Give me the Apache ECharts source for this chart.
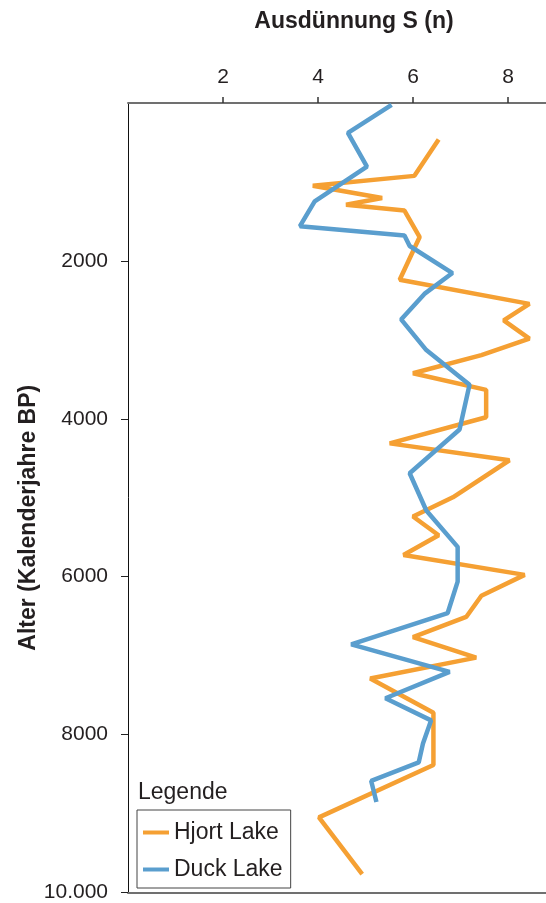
<!DOCTYPE html>
<html>
<head>
<meta charset="utf-8">
<script src="https://cdn.jsdelivr.net/npm/echarts@6/dist/echarts.min.js"></script>
<style>html,body{margin:0;padding:0;background:#fff}#c{width:546px;height:903px}</style>
</head>
<body>
<div id="c"></div>
<script>
// Hjort Lake: age (years BP) and thinning S (n)
const hjortAge = [463, 923, 1049, 1204, 1288, 1363, 1698, 2238, 2544, 2754, 2984, 3193, 3423, 3633, 3980, 4311, 4525, 4994, 5237, 5475, 5726, 5977, 6241, 6510, 6765, 7025, 7289, 7724, 8386, 9048, 9768];
const hjortS   = [6.54, 6.03, 3.89, 5.35, 4.59, 5.82, 6.14, 5.72, 8.45, 7.91, 8.45, 7.44, 6.0, 7.54, 7.54, 5.51, 8.03, 6.84, 6.0, 6.54, 5.80, 8.35, 7.44, 7.12, 6.0, 7.33, 5.10, 6.43, 6.43, 4.02, 4.93];
// Duck Lake
const duckAge = [25, 379, 806, 1246, 1560, 1677, 1811, 2154, 2418, 2741, 3130, 3570, 4136, 4690, 5161, 5622, 6062, 6460, 6857, 7205, 7540, 7820, 8113, 8352, 8587, 8854];
const duckS   = [5.55, 4.63, 5.03, 3.93, 3.62, 5.82, 5.93, 6.83, 6.24, 5.75, 6.28, 7.19, 6.98, 5.93, 6.28, 6.94, 6.94, 6.73, 4.70, 6.77, 5.42, 6.38, 6.21, 6.12, 5.12, 5.23];
const xTicks = [2, 4, 6, 8];
const yTicks = [2000, 4000, 6000, 8000, 10000];
const yTickLabels = ['2000', '4000', '6000', '8000', '10.000'];

const txt = '#231f20';
const font = 'Liberation Sans, Arial, Helvetica, sans-serif';
const chart = echarts.init(document.getElementById('c'));
chart.setOption({
  animation: false,
  textStyle: {fontFamily: font, color: txt},
  title: {text: 'Legende', left: 133, top: 776, textStyle: {fontFamily: font, fontSize: 23, fontWeight: 'normal', color: txt}},
  legend: {
    orient: 'vertical', left: 137, top: 810,
    padding: [11, 8, 7, 6], itemGap: 14, itemWidth: 26, itemHeight: 4,
    borderColor: '#444', borderWidth: 1,
    textStyle: {fontFamily: font, fontSize: 23, color: txt, padding: [0, 0, 0, 0]},
    data: [{name: 'Hjort Lake', icon: 'rect'}, {name: 'Duck Lake', icon: 'rect'}]
  },
  grid: {left: 128, top: 103, right: 0, bottom: 5, containLabel: false},
  xAxis: [{
    type: 'value', position: 'top', min: 0, max: 8.8, interval: 2,
    name: 'Ausdünnung S (n)', nameLocation: 'middle', nameGap: 70, nameMoveOverlap: false,
    nameTextStyle: {fontFamily: font, fontSize: 23, fontWeight: 'bold', color: txt, padding: [0, 0, 0, 34]},
    axisLine: {show: true, lineStyle: {color: '#707070', width: 2}},
    axisTick: {show: true, length: 6, lineStyle: {color: '#333', width: 1.5}, customValues: xTicks},
    axisLabel: {fontFamily: font, fontSize: 21, color: txt, margin: 15, customValues: xTicks},
    splitLine: {show: false}
  }, {
    type: 'value', position: 'bottom', min: 0, max: 8.8,
    axisLine: {show: true, lineStyle: {color: '#707070', width: 2}},
    axisTick: {show: false}, axisLabel: {show: false}, splitLine: {show: false}
  }],
  yAxis: {
    type: 'value', inverse: true, min: 0, max: 10000, interval: 2000,
    name: 'Alter (Kalenderjahre BP)', nameLocation: 'middle', nameGap: 88, nameMoveOverlap: false,
    nameTextStyle: {fontFamily: font, fontSize: 23, fontWeight: 'bold', color: txt, padding: [0, 40, 0, 0]},
    axisLine: {show: true, lineStyle: {color: '#111', width: 1}},
    axisTick: {show: true, length: 7, lineStyle: {color: '#222', width: 1}, customValues: yTicks},
    axisLabel: {fontFamily: font, fontSize: 21, color: txt, margin: 20, customValues: yTicks,
      formatter: v => yTickLabels[yTicks.indexOf(v)] || ''},
    splitLine: {show: false}
  },
  series: [{
    name: 'Hjort Lake', type: 'line', xAxisIndex: 0, symbol: 'none',
    data: hjortS.map((s, i) => [s, hjortAge[i]]),
    lineStyle: {color: '#F5A033', width: 4.5}, itemStyle: {color: '#F5A033'}
  }, {
    name: 'Duck Lake', type: 'line', xAxisIndex: 0, symbol: 'none',
    data: duckS.map((s, i) => [s, duckAge[i]]),
    lineStyle: {color: '#5A9ECE', width: 4.5}, itemStyle: {color: '#5A9ECE'}
  }]
});
</script>
</body>
</html>
